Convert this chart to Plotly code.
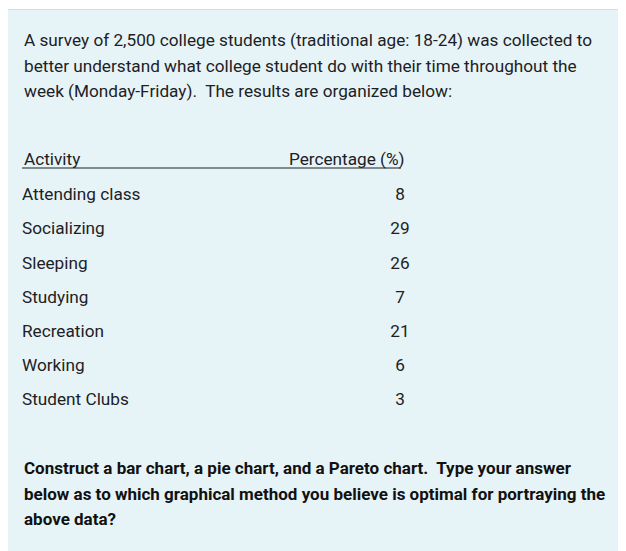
import plotly.graph_objects as go

# survey results
activities = ['Attending class', 'Socializing', 'Sleeping', 'Studying',
              'Recreation', 'Working', 'Student Clubs']
percentages = [8, 29, 26, 7, 21, 6, 3]

intro_lines = ['A survey of 2,500 college students (traditional age: 18-24) was collected to',
               'better understand what college student do with their time throughout the',
               'week (Monday-Friday).  The results are organized below:']
question_lines = ['Construct a bar chart, a pie chart, and a Pareto chart.  Type your answer',
                  'below as to which graphical method you believe is optimal for portraying the',
                  'above data?']
header = ['Activity', 'Percentage (%)']

W, H = 626, 551
OFF = 8           # page body margin, axes are set so that data units = page pixels
TEXT = '#1d2125'
FONT = 'Roboto'
SIZE = 17.2

row_y0 = 196      # first table row
row_step = 34.2   # table row spacing
row_y = [row_y0 + i * row_step for i in range(len(activities))]

fig = go.Figure()

# activity names
fig.add_trace(go.Scatter(
    x=[22] * len(activities), y=row_y, mode='text', text=activities,
    textposition='middle right', textfont=dict(family=FONT, size=SIZE, color=TEXT),
    hoverinfo='skip', showlegend=False))

# percentages
fig.add_trace(go.Scatter(
    x=[400] * len(percentages), y=row_y, mode='text', text=[str(p) for p in percentages],
    textposition='middle center', textfont=dict(family=FONT, size=SIZE, color=TEXT),
    hoverinfo='skip', showlegend=False))

# panel background
fig.add_shape(type='rect', x0=6.5, x1=W + 20, y0=9.5, y1=H + 20,
              fillcolor='#e7f4f7', line=dict(color='#bfe3ea', width=1.2), layer='below')
# little white box bottom right
fig.add_shape(type='rect', x0=618, x1=W + 20, y0=503, y1=531,
              fillcolor='#f7fafb', line=dict(width=0), layer='below')
# header underline
fig.add_shape(type='line', x0=22, x1=401, y0=168, y1=168,
              line=dict(color=TEXT, width=1))

# faint cut-off text at top
fig.add_annotation(x=22, y=7, xref='x', yref='y', text='Not complete    Marked out of 1.00    ⚑ Flag question',
                   showarrow=False, xanchor='left', yanchor='bottom',
                   font=dict(family=FONT, size=14, color='#d3d6d9'))

for i, line in enumerate(intro_lines):
    fig.add_annotation(x=22, y=40 + i * 25.6, xref='x', yref='y', text=line,
                       showarrow=False, xanchor='left', yanchor='middle',
                       font=dict(family=FONT, size=SIZE, color=TEXT))

fig.add_annotation(x=22, y=159, xref='x', yref='y', text=header[0],
                   showarrow=False, xanchor='left', yanchor='middle',
                   font=dict(family=FONT, size=SIZE, color=TEXT))
fig.add_annotation(x=287, y=159, xref='x', yref='y', text=header[1],
                   showarrow=False, xanchor='left', yanchor='middle',
                   font=dict(family=FONT, size=SIZE, color=TEXT))

for i, line in enumerate(question_lines):
    fig.add_annotation(x=22, y=468 + i * 25.6, xref='x', yref='y', text='<b>' + line + '</b>',
                       showarrow=False, xanchor='left', yanchor='middle',
                       font=dict(family=FONT, size=17, color='#111111'))

fig.update_xaxes(range=[OFF, W + OFF], visible=False, fixedrange=True)
fig.update_yaxes(range=[H + OFF, OFF], visible=False, fixedrange=True)
fig.update_layout(width=W, height=H, margin=dict(l=0, r=0, t=0, b=0),
                  paper_bgcolor='white', plot_bgcolor='white')

fig.write_html('out.html')
